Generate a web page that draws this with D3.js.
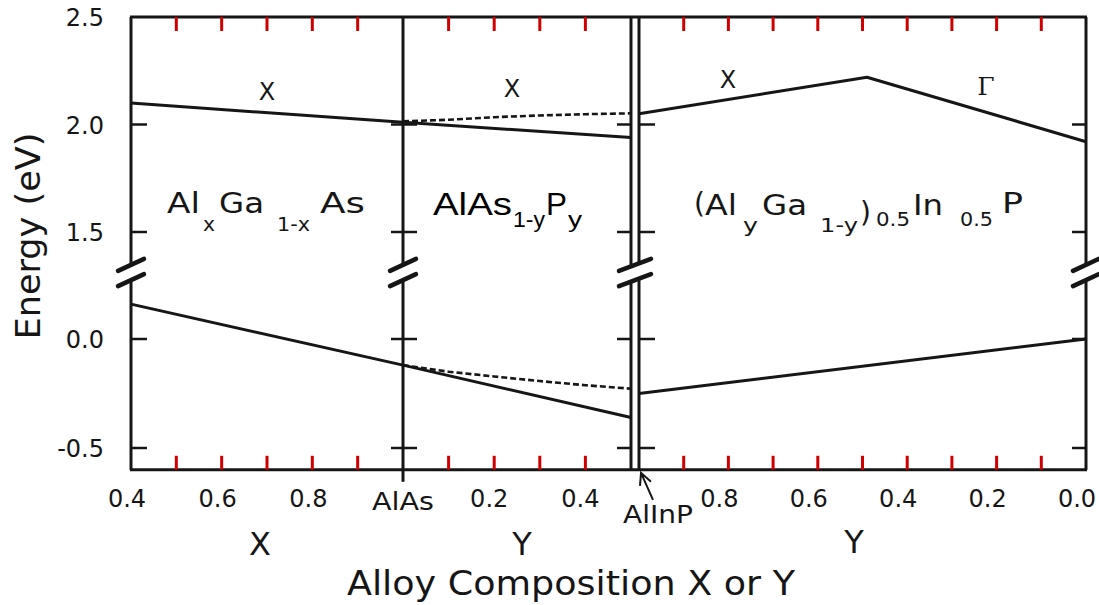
<!DOCTYPE html>
<html>
<head>
<meta charset="utf-8">
<script src="https://cdn.jsdelivr.net/npm/d3@7"></script>
<style>
  body { margin: 0; background: #fff; }
  svg { display: block; }
</style>
</head>
<body>
<div id="chart"></div>
<script>
// energy axis: upper part (1.5 - 2.5) and lower part (-0.6 - 0.x), broken between
const energyTicksHigh = [2.5, 2.0, 1.5];
const energyTicksLow = [0.0, -0.5];
const breakMarks = [0.34, 0.27];

// AlGaAs panel, x = Al fraction
const algaasX = [0.4, 1.0];
const algaasXBand = [2.10, 2.01];
const algaasLower = [0.16, -0.12];
const algaasMinor = [0.5, 0.6, 0.7, 0.8, 0.9];
const algaasLabels = [0.4, 0.6, 0.8];

// AlAsP panel, y = P fraction
const alaspY = [0, 0.5];
const alaspXBand = [2.01, 1.94];
const alaspLower = [-0.12, -0.36];
const alaspDashY = [0, 0.1, 0.2, 0.3, 0.4, 0.5];
const alaspXBandDash = [2.015, 2.022, 2.034, 2.042, 2.048, 2.052];
const alaspLowerDash = [-0.12, -0.15, -0.172, -0.193, -0.212, -0.228];
const alaspMinor = [0.1, 0.2, 0.3, 0.4];
const alaspLabels = [0.2, 0.4];

// AlGaInP panel, y = Al fraction (reversed)
const algainpY = [1.0, 0.49, 0.0];
const algainpUpper = [2.05, 2.22, 1.92];
const algainpLowY = [1.0, 0.0];
const algainpLower = [-0.25, 0.0];
const algainpMinor = [0.9, 0.8, 0.7, 0.6, 0.5, 0.4, 0.3, 0.2, 0.1];
const algainpLabels = [0.8, 0.6, 0.4, 0.2, 0.0];

const width = 1099, height = 605;
const ink = "#161616";
const sans = "'DejaVu Sans', 'Liberation Sans', Arial, sans-serif";

const svg = d3.select("#chart").append("svg")
    .attr("width", width)
    .attr("height", height);

const yHigh = d3.scaleLinear().domain([1.5, 2.5]).range([232, 17]);
const yLow = d3.scaleLinear().domain([-0.5, 0.0]).range([448, 339]);
const xAlGaAs = d3.scaleLinear().domain([0.4, 1.0]).range([131, 403]);
const xAlAsP = d3.scaleLinear().domain([0, 0.5]).range([403, 631]);
const xAlGaInP = d3.scaleLinear().domain([1.0, 0.0]).range([639, 1086]);

const yTop = yHigh(2.5), yBottom = yLow(-0.6);
const gapTop = yLow(breakMarks[0]), gapBottom = yLow(breakMarks[1]);

const frame = svg.append("g")
    .attr("stroke", ink)
    .attr("stroke-width", 3)
    .attr("fill", "none");

function seg(g, xa, ya, xb, yb, w) {
    return g.append("path")
        .attr("d", `M${xa},${ya}L${xb},${yb}`)
        .attr("stroke-width", w || 3);
}

// horizontal frame lines
seg(frame, xAlGaAs(0.4) - 1, yTop, xAlGaInP(0.0) + 1, yTop);
seg(frame, xAlGaAs(0.4) - 1, yBottom, xAlGaInP(0.0) + 1, yBottom);

// vertical axes, broken
const verticals = [
    { x: xAlGaAs(0.4), ext: 0 },
    { x: xAlGaAs(1.0), ext: 12 },
    { x: xAlAsP(0.5), ext: 0 },
    { x: xAlGaInP(1.0), ext: 0 },
    { x: xAlGaInP(0.0), ext: 0 }
];
verticals.forEach(v => {
    seg(frame, v.x, yTop, v.x, gapTop);
    seg(frame, v.x, gapBottom, v.x, yBottom + v.ext);
});

// energy ticks on every vertical axis
const tickYs = energyTicksHigh.filter(d => d !== 2.5).map(d => yHigh(d))
    .concat(energyTicksLow.map(d => yLow(d)));
const tickSpecs = [
    { x: xAlGaAs(0.4), a: 0, b: 16 },
    { x: xAlGaAs(1.0), a: -12, b: 14 },
    { x: xAlAsP(0.5), a: -14, b: 0 },
    { x: xAlGaInP(1.0), a: 0, b: 16 },
    { x: xAlGaInP(0.0), a: -14, b: 0 }
];
tickSpecs.forEach(s => {
    tickYs.forEach(ty => seg(frame, s.x + s.a, ty, s.x + s.b, ty, 2.5));
});

// composition ticks along top and bottom edges, pointing inward
const minor = svg.append("g")
    .attr("stroke", "#d00000")
    .attr("fill", "none");
const minorXs = algaasMinor.map(d => xAlGaAs(d))
    .concat(alaspMinor.map(d => xAlAsP(d)))
    .concat(algainpMinor.map(d => xAlGaInP(d)));
minorXs.forEach(tx => {
    seg(minor, tx, yTop, tx, yTop + 14, 3);
    seg(minor, tx, yBottom, tx, yBottom - 14, 3);
});

// break marks
const breaks = svg.append("g")
    .attr("stroke", ink)
    .attr("stroke-width", 4.5)
    .attr("stroke-linecap", "round");
[xAlGaAs(0.4), xAlGaAs(1.0), (xAlAsP(0.5) + xAlGaInP(1.0)) / 2, xAlGaInP(0.0)].forEach((bx, i) => {
    const half = i === 2 ? 16 : 13;
    [gapTop, gapBottom].forEach(by => {
        breaks.append("line")
            .attr("x1", bx - half).attr("y1", by + 6)
            .attr("x2", bx + half).attr("y2", by - 6);
    });
});

// data lines
const lines = svg.append("g")
    .attr("fill", "none")
    .attr("stroke", ink)
    .attr("stroke-width", 3)
    .attr("stroke-linejoin", "round");

function drawLine(scale, yScale, xs, es, dashed) {
    const pts = xs.map((v, i) => [v, es[i]]);
    lines.append("path")
        .datum(pts)
        .attr("d", d3.line().x(d => scale(d[0])).y(d => yScale(d[1])))
        .attr("stroke-width", dashed ? 2.6 : 3)
        .attr("stroke-dasharray", dashed ? "6,3" : null);
}
drawLine(xAlGaAs, yHigh, algaasX, algaasXBand);
drawLine(xAlGaAs, yLow, algaasX, algaasLower);
drawLine(xAlAsP, yHigh, alaspY, alaspXBand);
drawLine(xAlAsP, yLow, alaspY, alaspLower);
drawLine(xAlAsP, yHigh, alaspDashY, alaspXBandDash, true);
drawLine(xAlAsP, yLow, alaspDashY, alaspLowerDash, true);
drawLine(xAlGaInP, yHigh, algainpY, algainpUpper);
drawLine(xAlGaInP, yLow, algainpLowY, algainpLower);

// text
const txt = svg.append("g").attr("fill", ink).style("font-family", sans);
const fmt = d => d.toFixed(1);

function leftLabels(values, yScale) {
    txt.selectAll(null)
        .data(values)
        .join("text")
        .attr("x", 104)
        .attr("y", d => yScale(d) + 9)
        .attr("text-anchor", "end")
        .style("font-size", "24px")
        .text(fmt);
}
leftLabels(energyTicksHigh, yHigh);
leftLabels(energyTicksLow, yLow);

function bottomLabels(scale, values, dx) {
    txt.selectAll(null)
        .data(values)
        .join("text")
        .attr("x", d => scale(d) + dx)
        .attr("y", 507)
        .attr("text-anchor", "middle")
        .style("font-size", "24px")
        .text(fmt);
}
bottomLabels(xAlGaAs, algaasLabels, -4);
bottomLabels(xAlAsP, alaspLabels, -5);
bottomLabels(xAlGaInP, algainpLabels, -9);

function word(str, x, yy, size, len, opts = {}) {
    const t = txt.append("text")
        .attr("x", x)
        .attr("y", yy)
        .style("font-size", size + "px")
        .text(str);
    if (len) t.attr("textLength", len).attr("lengthAdjust", "spacingAndGlyphs");
    if (opts.anchor) t.attr("text-anchor", opts.anchor);
    if (opts.family) t.style("font-family", opts.family);
    if (opts.fill) t.attr("fill", opts.fill);
    return t;
}

word("AlAs", xAlGaAs(1.0), 510, 24, 62, { anchor: "middle" });
word("AlInP", 623, 523, 24, 70);

// arrow to AlInP edge
const tipX = xAlGaInP(1.0) + 2, tipY = yBottom + 3;
svg.append("path")
    .attr("d", `M${tipX + 12},${tipY + 27} L${tipX},${tipY} M${tipX - 1},${tipY + 13} L${tipX},${tipY} L${tipX + 10},${tipY + 9}`)
    .attr("fill", "none")
    .attr("stroke", ink)
    .attr("stroke-width", 2);

// axis letters under each panel
word("X", 260, 555, 32, null, { anchor: "middle" });
word("Y", 522, 555, 32, null, { anchor: "middle" });
word("Y", 854, 553, 32, null, { anchor: "middle" });

// axis titles
word("Alloy Composition X or Y", 571, 595, 34, 448, { anchor: "middle" });
txt.append("text")
    .attr("transform", "translate(40,236) rotate(-90)")
    .attr("text-anchor", "middle")
    .attr("textLength", 207)
    .attr("lengthAdjust", "spacingAndGlyphs")
    .style("font-size", "34px")
    .text("Energy (eV)");

// band labels
word("X", 267, 100, 24, null, { anchor: "middle" });
word("X", 512, 97, 24, null, { anchor: "middle" });
word("X", 728, 88, 24, null, { anchor: "middle" });
word("\u0393", 986, 95, 25, null, { anchor: "middle", family: "'DejaVu Serif', 'Liberation Serif', serif" });

// AlxGa1-xAs
word("Al", 167, 213, 28, 33);
word("x", 203, 231, 20, 12);
word("Ga", 219, 213, 28, 45);
word("1-x", 277, 231, 20, 33);
word("As", 320, 213, 28, 45);

// AlAs1-yPy
const arial = "'Liberation Sans', Arial, sans-serif";
word("AlAs", 433, 215, 31, 79, { family: arial, fill: "#000" });
word("1-y", 513, 227, 22, 32, { family: arial, fill: "#000" });
word("P", 546, 215, 31, 21, { family: arial, fill: "#000" });
word("y", 568, 227, 22, 14, { family: arial, fill: "#000" });

// (AlyGa1-y)0.5In0.5P
word("(", 694, 213, 28, 11);
word("Al", 705, 215, 28, 32);
word("y", 743, 232, 20, 15);
word("Ga", 762, 215, 28, 45);
word("1-y", 820, 232, 20, 38);
word(")", 860, 222, 28, 11);
word("0.5", 876, 226, 20, 34);
word("In", 913, 215, 28, 30);
word("0.5", 960, 226, 20, 33);
word("P", 1002, 213, 28, 21);
</script>
</body>
</html>
